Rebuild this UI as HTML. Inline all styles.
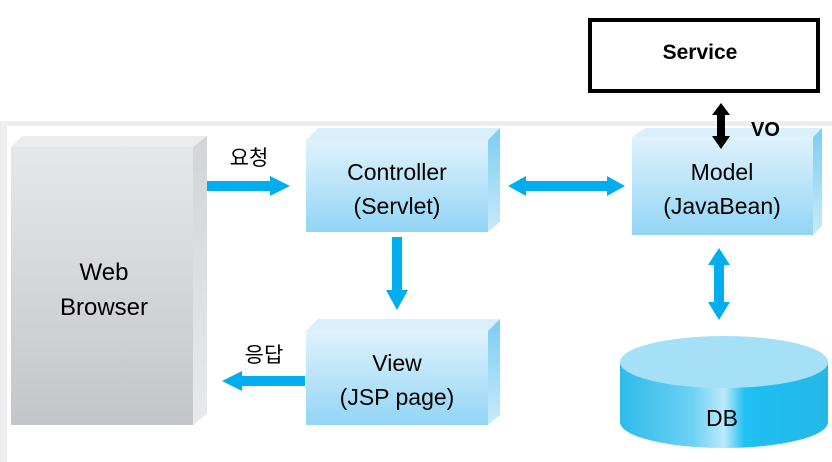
<!DOCTYPE html>
<html><head><meta charset="utf-8"><style>body{margin:0;background:#fff}svg{display:block}</style></head><body>
<svg width="832" height="462" viewBox="0 0 832 462" xmlns="http://www.w3.org/2000/svg" font-family="Liberation Sans, NanumGothic, sans-serif">
<defs>
<linearGradient id="gb" x1="0" y1="0" x2="0" y2="1"><stop offset="0" stop-color="#e6e7e9"/><stop offset="1" stop-color="#c4c5c8"/></linearGradient>
<linearGradient id="gs" x1="0" y1="0" x2="0" y2="1"><stop offset="0" stop-color="#d3d4d6"/><stop offset="1" stop-color="#e8e9ea"/></linearGradient>
<linearGradient id="bl" x1="0" y1="0" x2="0" y2="1"><stop offset="0" stop-color="#e0f2fc"/><stop offset="1" stop-color="#92d5f5"/></linearGradient>
<linearGradient id="bs" x1="0" y1="0" x2="0" y2="1"><stop offset="0" stop-color="#7ccdf2"/><stop offset="1" stop-color="#c8eafa"/></linearGradient>
<linearGradient id="cy" x1="0" y1="0" x2="1" y2="0"><stop offset="0" stop-color="#2ebbea"/><stop offset="0.35" stop-color="#6dd1f4"/><stop offset="0.5" stop-color="#bde9fb"/><stop offset="0.6" stop-color="#1fc0f2"/><stop offset="1" stop-color="#24b8e8"/></linearGradient>
</defs>
<rect x="0" y="121" width="832" height="341" fill="#eeeef0"/>
<rect x="7" y="126" width="825" height="336" fill="#fff"/>
<!-- Web Browser -->
<polygon points="11,147 22,136 207,136 193,147" fill="#ececed"/>
<polygon points="193,147 207,136 207,414 193,425" fill="url(#gs)"/>
<rect x="11" y="147" width="182" height="278" fill="url(#gb)"/>
<text x="104" y="280" font-size="24" text-anchor="middle">Web</text>
<text x="104" y="315" font-size="24" text-anchor="middle">Browser</text>
<!-- Controller -->
<polygon points="306,140 318,128 500,128 488,140" fill="#d8f0fc"/>
<polygon points="488,140 500,128 500,222 488,232" fill="url(#bs)"/>
<rect x="306" y="140" width="182" height="92" fill="url(#bl)"/>
<text x="397" y="180" font-size="23" text-anchor="middle">Controller</text>
<text x="397" y="214" font-size="23" text-anchor="middle">(Servlet)</text>
<!-- View -->
<polygon points="306,331 318,319 500,319 488,331" fill="#d8f0fc"/>
<polygon points="488,331 500,319 500,415 488,425" fill="url(#bs)"/>
<rect x="306" y="331" width="182" height="94" fill="url(#bl)"/>
<text x="397" y="371" font-size="23" text-anchor="middle">View</text>
<text x="397" y="405" font-size="23" text-anchor="middle">(JSP page)</text>
<!-- Model -->
<polygon points="632,137 645,128 822,128 813,137" fill="#d8f0fc"/>
<polygon points="813,137 822,128 822,226 813,235" fill="url(#bs)"/>
<rect x="632" y="137" width="181" height="98" fill="url(#bl)"/>
<text x="722" y="180" font-size="23" text-anchor="middle">Model</text>
<text x="722" y="214" font-size="23" text-anchor="middle">(JavaBean)</text>
<!-- DB -->
<path d="M620,362 L620,422 A104,26 0 0 0 828,422 L828,362 Z" fill="url(#cy)"/>
<ellipse cx="724" cy="362" rx="104" ry="26" fill="#a6e0f7"/>
<text x="722" y="426" font-size="23" text-anchor="middle">DB</text>
<!-- Service -->
<rect x="590" y="20" width="228" height="71" fill="#fff" stroke="#000" stroke-width="4"/>
<text x="700" y="59" font-size="21" font-weight="bold" text-anchor="middle">Service</text>
<!-- arrows -->
<g fill="#00aeef">
<polygon points="207,181 270,181 270,176 290,186 270,196 270,191 207,191"/>
<polygon points="508,186 526,176 526,181 607,181 607,176 625,186 607,196 607,191 526,191 526,196"/>
<polygon points="392,237 402,237 402,290 408,290 397,310 386,290 392,290"/>
<polygon points="305,376 242,376 242,371 222,381 242,391 242,386 305,386"/>
<polygon points="719,248 730,265 724,265 724,302 730,302 719,320 708,302 714,302 714,265 708,265"/>
</g>
<polygon points="721,103 730,115 725,115 725,136 730,136 721,149 712,136 717,136 717,115 712,115" fill="#000"/>
<text x="751" y="136" font-size="20" font-weight="bold">VO</text>
<text x="249" y="165" font-size="21" text-anchor="middle" font-family="Noto Sans CJK KR, NanumGothic, sans-serif">요청</text>
<text x="264" y="362" font-size="21" text-anchor="middle" font-family="Noto Sans CJK KR, NanumGothic, sans-serif">응답</text>
</svg>
</body></html>
